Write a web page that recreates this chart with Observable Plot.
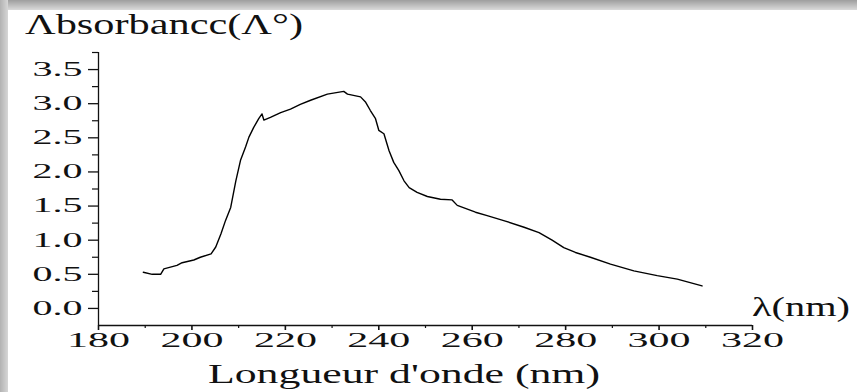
<!DOCTYPE html>
<html><head><meta charset="utf-8">
<script src="https://cdn.jsdelivr.net/npm/d3@7"></script>
<script src="https://cdn.jsdelivr.net/npm/@observablehq/plot@0.6"></script>
<style>
body{margin:0;background:#fff;}
#wrap{position:relative;width:857px;height:392px;overflow:hidden;background:#fff;}
#wrap svg{position:absolute;left:0;top:0;}
.shTop{position:absolute;left:0;top:0;width:857px;height:10px;background:linear-gradient(#9e9e9e,#dadada);}
.shLeft{position:absolute;left:0;top:0;width:8px;height:392px;background:linear-gradient(to right,#b2b2b2,#d6d6d6);}
</style></head><body><div id="wrap"></div>
<script>
const wavelength = [189.6, 191.5, 193.3, 194.0, 196.8, 197.9, 200.4, 201.8, 204.1, 205.1, 206.2, 207.2, 208.3, 209.4, 210.4, 211.5, 212.2, 213.2, 214.3, 215.0, 215.4, 216.8, 219.0, 221.1, 223.2, 225.4, 229.0, 232.5, 233.3, 236.1, 237.2, 238.2, 239.3, 240.0, 241.1, 242.2, 243.2, 244.3, 245.4, 246.5, 248.2, 250.4, 253.2, 255.7, 256.8, 260.7, 263.2, 267.1, 271.1, 274.3, 277.1, 279.6, 282.1, 285.3, 289.6, 294.6, 299.6, 303.9, 309.2];
const absorbance = [0.53, 0.50, 0.50, 0.58, 0.63, 0.67, 0.71, 0.75, 0.80, 0.90, 1.09, 1.29, 1.48, 1.87, 2.17, 2.37, 2.51, 2.65, 2.78, 2.85, 2.76, 2.80, 2.87, 2.92, 2.99, 3.05, 3.14, 3.18, 3.14, 3.10, 3.02, 2.90, 2.78, 2.61, 2.56, 2.31, 2.14, 2.02, 1.87, 1.77, 1.70, 1.64, 1.60, 1.59, 1.51, 1.41, 1.36, 1.28, 1.19, 1.11, 1.00, 0.89, 0.82, 0.75, 0.65, 0.55, 0.48, 0.43, 0.33];
const xTicks = [180, 200, 220, 240, 260, 280, 300, 320];
const xMinor = [190, 210, 230, 250, 270, 290, 310];
const yTicks = [0, 0.5, 1.0, 1.5, 2.0, 2.5, 3.0, 3.5];
const yMinor = [0.25, 0.75, 1.25, 1.75, 2.25, 2.75, 3.25, 3.75];
const titleY = "Λbsorbancc(Λ°)";
const titleX = "Longueur d'onde (nm)";
const unitX = "λ(nm)";

const data = wavelength.map((w, i) => ({w, a: absorbance[i]}));
const FONT = "Liberation Serif";

const chart = Plot.plot({
  width: 857, height: 392,
  marginLeft: 98, marginRight: 105, marginTop: 52, marginBottom: 67,
  x: {domain: [180, 320]},
  y: {domain: [-0.25, 3.75]},
  style: {fontFamily: FONT, fontSize: "20px", color: "#111", background: "transparent"},
  marks: [
    Plot.ruleX([180], {y1: -0.25, y2: 3.75, stroke: "#111", strokeWidth: 1.3}),
    Plot.ruleY([-0.25], {x1: 180, x2: 320, stroke: "#111", strokeWidth: 1.3}),
    Plot.axisY({ticks: yTicks, tickSize: 10, tickPadding: 6, tickFormat: d3.format(".1f"), label: null, strokeWidth: 1.3}),
    Plot.axisY({ticks: yMinor, tickSize: 6, tickFormat: () => "", label: null, strokeWidth: 1.2}),
    Plot.axisX({ticks: xTicks, tickSize: 5, tickPadding: 2, tickFormat: d => String(d), label: null, strokeWidth: 1.6}),
    Plot.axisX({ticks: xMinor, tickSize: 3, tickFormat: () => "", label: null, strokeWidth: 1.2}),
    Plot.line(data, {x: "w", y: "a", stroke: "#000", strokeWidth: 1.4})
  ]
});

const wrap = document.getElementById("wrap");
wrap.appendChild(chart);
const svg = d3.select(chart);
svg.selectAll("text").each(function() {
  const t = d3.select(this);
  const s = t.text();
  if (!s) return;
  const w = s.length === 3 && s.includes(".") ? 50 : 63;
  t.attr("textLength", w).attr("lengthAdjust", "spacingAndGlyphs");
});
function addText(txt, x, y, size, len) {
  svg.append("text").attr("x", x).attr("y", y).attr("text-anchor", "start")
    .attr("font-family", FONT).attr("font-size", size).attr("fill", "#111")
    .attr("textLength", len).attr("lengthAdjust", "spacingAndGlyphs").text(txt);
}
addText(titleY, 25, 34, 29, 278);
addText(titleX, 208, 383, 27, 392);
addText(unitX, 752, 316, 28, 98);

const t = document.createElement("div"); t.className = "shTop"; wrap.appendChild(t);
const l = document.createElement("div"); l.className = "shLeft"; wrap.appendChild(l);
</script></body></html>
